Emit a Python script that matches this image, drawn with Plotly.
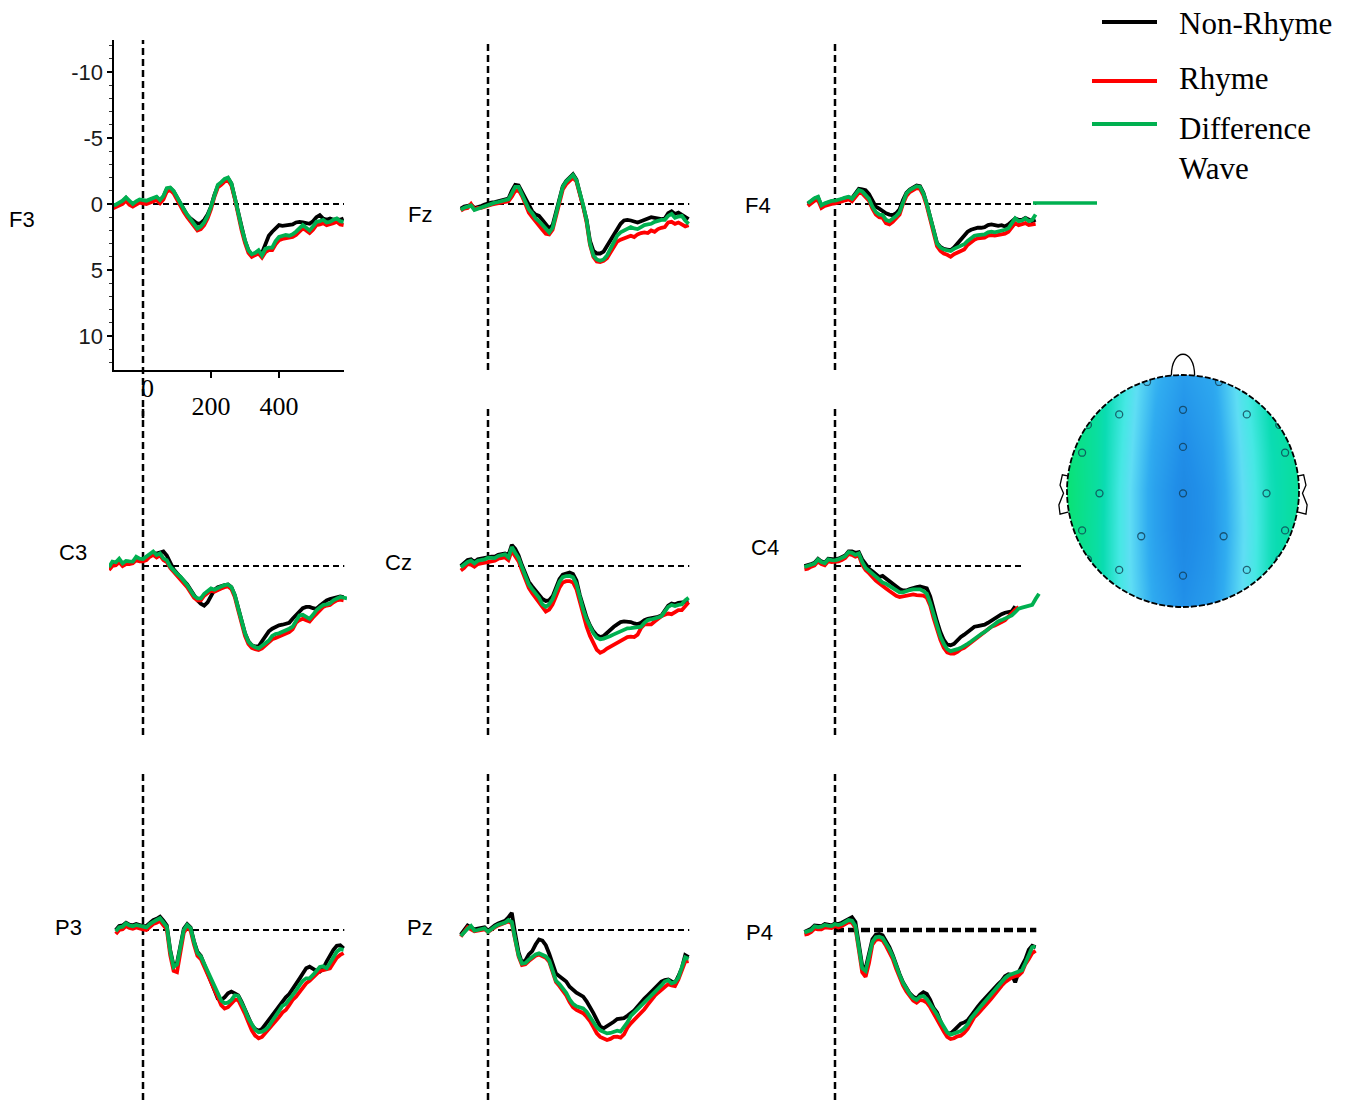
import math
import plotly.graph_objects as go

W, H = 1355, 1102

# Sample times (ms), 10 ms steps; None marks samples outside a recorded trace
TIME_MS = list(range(-100, 601, 10))

# ---- ERP amplitudes (µV), negative plotted upward ----
F3_NONRHYME = [
    None, 0.15, 0.1, -0.05, -0.2, -0.45, -0.1, 0.05, -0.15, -0.3,
    -0.25, -0.2, -0.3, -0.4, -0.5, -0.25, -0.55, -1.15, -1.2, -0.95,
    -0.5, 0.05, 0.5, 0.85, 1.1, 1.35, 1.5, 1.45, 1.2, 0.8,
    0.2, -0.7, -1.35, -1.55, -1.8, -1.95, -1.55, -0.5, 0.8, 1.9,
    2.8, 3.5, 3.85, 3.8, 3.6, 3.7, 3.0, 2.4, 2.1, 1.8,
    1.6, 1.65, 1.6, 1.6, 1.55, 1.4, 1.35, 1.4, 1.45, 1.5,
    1.3, 1.0, 0.85, 1.1, 1.2, 1.1, 1.2, 1.15, 1.2, 1.1,
    None]
F3_RHYME = [
    None, 0.35, 0.25, 0.1, 0.0, -0.25, 0.05, 0.2, 0.05, -0.1,
    -0.05, 0.0, -0.1, -0.2, -0.3, -0.05, -0.35, -0.95, -1.05, -0.8,
    -0.3, 0.2, 0.6, 1.0, 1.3, 1.7, 2.0, 1.9, 1.6, 1.1,
    0.4, -0.55, -1.25, -1.45, -1.7, -1.8, -1.4, -0.4, 0.9, 2.0,
    2.95, 3.7, 4.0, 3.9, 3.75, 4.05, 3.65, 3.5, 3.5, 3.05,
    2.75, 2.65, 2.6, 2.6, 2.5, 2.35, 2.05, 1.85, 2.0, 2.2,
    1.95, 1.6, 1.55, 1.45, 1.6, 1.55, 1.45, 1.35, 1.55, 1.6,
    None]
F3_DIFF = [
    None, 0.1, 0.05, -0.1, -0.25, -0.5, -0.2, 0.0, -0.2, -0.35,
    -0.3, -0.25, -0.35, -0.45, -0.55, -0.3, -0.6, -1.2, -1.25, -1.0,
    -0.5, 0.0, 0.4, 0.8, 1.1, 1.5, 1.85, 1.7, 1.4, 0.9,
    0.2, -0.75, -1.45, -1.65, -1.9, -2.0, -1.55, -0.5, 0.7, 1.8,
    2.75, 3.5, 3.8, 3.7, 3.5, 3.9, 3.4, 3.3, 3.3, 2.8,
    2.5, 2.4, 2.35, 2.4, 2.3, 2.1, 1.8, 1.6, 1.8, 2.0,
    1.7, 1.35, 1.3, 1.2, 1.4, 1.35, 1.2, 1.1, 1.3, 1.35,
    None]

FZ_NONRHYME = [
    None, None, 0.35, 0.2, 0.15, 0.05, 0.3, 0.25, 0.15, 0.05,
    -0.05, -0.1, -0.15, -0.2, -0.25, -0.3, -0.4, -1.0, -1.45, -1.4,
    -0.9, -0.35, 0.2, 0.55, 0.8, 0.9, 1.2, 1.5, 1.85, 1.6,
    0.6, -0.5, -1.35, -1.75, -2.05, -2.25, -1.85, -0.9, 0.1, 1.2,
    2.8, 3.55, 3.75, 3.75, 3.6, 3.2, 2.8, 2.3, 1.9, 1.5,
    1.25, 1.2, 1.25, 1.3, 1.4, 1.3, 1.2, 1.05, 1.0, 1.05,
    1.1, 1.15, 1.1, 0.7, 0.55, 0.75, 0.65, 0.8, 1.0, 1.15,
    None]
FZ_RHYME = [
    None, None, 0.5, 0.35, 0.3, 0.0, 0.4, 0.3, 0.3, 0.2,
    0.1, 0.05, 0.0, -0.05, -0.1, -0.15, -0.2, -0.55, -1.0, -1.05,
    -0.6, 0.0, 0.65, 1.0, 1.35, 1.6, 1.95, 2.25, 2.3, 1.95,
    0.9, -0.3, -1.1, -1.5, -1.8, -2.0, -1.7, -0.85, 0.2, 1.4,
    3.1, 4.0, 4.35, 4.4, 4.3, 4.1, 3.7, 3.2, 2.85, 2.7,
    2.6, 2.5, 2.4, 2.5, 2.3, 2.2, 2.15, 2.2, 2.0, 2.1,
    1.9, 1.8, 1.75, 1.4, 1.35, 1.5, 1.4, 1.55, 1.7, 1.6,
    None]
FZ_DIFF = [
    None, None, 0.45, 0.28, 0.2, 0.12, 0.45, 0.35, 0.25, 0.18,
    0.05, 0.0, -0.1, -0.15, -0.2, -0.28, -0.35, -0.8, -1.3, -1.3,
    -0.75, -0.2, 0.4, 0.7, 1.1, 1.3, 1.6, 1.9, 2.15, 1.8,
    0.7, -0.45, -1.3, -1.7, -2.0, -2.2, -1.8, -0.9, 0.1, 1.25,
    3.0, 3.9, 4.2, 4.3, 4.2, 3.9, 3.4, 2.8, 2.4, 2.15,
    2.0, 1.85, 1.75, 1.85, 1.9, 1.75, 1.6, 1.55, 1.5, 1.35,
    1.25, 1.2, 1.2, 0.9, 0.75, 1.05, 0.95, 0.9, 1.25, 1.5,
    None]

F4_NONRHYME = [
    None, None, 0.0, -0.25, -0.4, -0.5, 0.15, 0.0, -0.1, -0.2,
    -0.2, -0.25, -0.35, -0.45, -0.5, -0.45, -0.8, -1.15, -1.1, -1.05,
    -0.75, -0.2, 0.2, 0.35, 0.55, 0.7, 0.8, 0.85, 0.7, 0.4,
    -0.3, -0.85, -1.1, -1.25, -1.4, -1.35, -0.85, 0.0, 0.9, 2.0,
    2.95, 3.25, 3.4, 3.45, 3.5, 3.3, 3.0, 2.6, 2.4, 2.1,
    1.95, 1.85, 1.8, 1.8, 1.75, 1.6, 1.55, 1.6, 1.65, 1.6,
    1.7, 1.55, 1.35, 1.1, 1.2, 1.2, 1.05, 1.2, 1.3, 1.2,
    None]
F4_RHYME = [
    None, None, 0.15, -0.1, -0.25, -0.3, 0.3, 0.15, 0.05, 0.0,
    -0.05, -0.1, -0.2, -0.28, -0.35, -0.2, -0.5, -0.85, -0.8, -0.55,
    -0.25, 0.35, 0.8, 1.0, 1.05, 1.45, 1.55, 1.35, 1.1, 0.8,
    0.0, -0.6, -0.9, -1.05, -1.2, -1.15, -0.65, 0.15, 1.1, 2.2,
    3.2, 3.55, 3.75, 3.85, 4.0, 3.8, 3.7, 3.55, 3.45, 3.1,
    2.9, 2.7, 2.6, 2.55, 2.55, 2.4, 2.35, 2.4, 2.35, 2.3,
    2.25, 2.1, 1.8, 1.45, 1.6, 1.55, 1.45, 1.6, 1.55, 1.5,
    None]
F4_DIFF = [
    None, None, -0.05, -0.3, -0.45, -0.55, 0.1, -0.05, -0.15, -0.23,
    -0.25, -0.3, -0.4, -0.48, -0.55, -0.4, -0.7, -1.06, -0.95, -0.7,
    -0.4, 0.2, 0.6, 0.8, 0.83, 1.2, 1.3, 1.1, 0.9, 0.6,
    -0.2, -0.8, -1.05, -1.2, -1.35, -1.3, -0.8, 0.0, 0.9, 2.0,
    3.0, 3.3, 3.45, 3.5, 3.56, 3.4, 3.3, 3.2, 3.05, 2.8,
    2.55, 2.4, 2.35, 2.3, 2.3, 2.15, 2.1, 2.15, 2.1, 2.0,
    1.95, 1.84, 1.5, 1.09, 1.3, 1.25, 1.09, 1.3, 1.2, 0.8,
    None]

C3_NONRHYME = [
    0.2, -0.2, -0.15, -0.35, -0.1, -0.25, -0.2, -0.3, -0.45, -0.4,
    -0.45, -0.6, -0.75, -0.9, -0.95, -1.0, -1.1, -0.8, -0.2, 0.25,
    0.55, 0.8, 1.05, 1.4, 1.8, 2.2, 2.6, 2.85, 3.0, 2.75,
    2.3, 1.8, 1.6, 1.5, 1.45, 1.4, 1.6, 2.2, 3.2, 4.2,
    5.1, 5.7, 6.0, 6.1, 6.1, 5.7, 5.3, 4.95, 4.75, 4.6,
    4.5, 4.45, 4.35, 4.3, 4.0, 3.7, 3.4, 3.2, 3.1, 3.1,
    3.2, 3.25, 3.0, 2.75, 2.6, 2.5, 2.45, 2.35, 2.3, 2.35,
    None]
C3_RHYME = [
    0.3, 0.0, -0.05, -0.3, 0.0, -0.15, -0.15, -0.2, -0.45, -0.35,
    -0.35, -0.45, -0.7, -0.85, -0.65, -0.8, -0.45, -0.3, 0.15, 0.45,
    0.7, 0.95, 1.25, 1.6, 2.0, 2.4, 2.6, 2.6, 2.25, 2.0,
    1.85, 1.95, 1.8, 1.7, 1.6, 1.55, 1.75, 2.35, 3.35, 4.4,
    5.3, 5.9, 6.2, 6.3, 6.36, 6.25, 6.0, 5.8, 5.55, 5.45,
    5.35, 5.25, 5.15, 5.0, 4.8, 4.3, 4.1, 4.0, 4.1, 4.2,
    3.9, 3.6, 3.35, 3.1, 3.0, 2.95, 2.75, 2.6, 2.55, 2.6,
    None]
C3_DIFF = [
    0.1, -0.33, -0.28, -0.55, -0.2, -0.38, -0.35, -0.33, -0.7, -0.55,
    -0.53, -0.7, -0.95, -1.1, -0.83, -0.96, -0.58, -0.45, 0.05, 0.35,
    0.6, 0.81, 1.1, 1.45, 1.85, 2.25, 2.45, 2.45, 2.1, 1.85,
    1.7, 1.8, 1.65, 1.55, 1.45, 1.4, 1.6, 2.2, 3.2, 4.2,
    5.1, 5.73, 6.0, 6.15, 6.24, 6.05, 5.85, 5.65, 5.3, 5.15,
    5.1, 5.0, 4.9, 4.75, 4.6, 4.1, 3.75, 3.7, 3.85, 4.0,
    3.7, 3.35, 3.15, 2.95, 2.9, 2.83, 2.6, 2.45, 2.35, 2.4,
    2.45]

CZ_NONRHYME = [
    None, None, 0.0, -0.2, -0.45, -0.5, -0.3, -0.5, -0.55, -0.6,
    -0.7, -0.7, -0.7, -0.85, -0.9, -0.95, -0.8, -1.6, -1.3, -0.8,
    -0.05, 0.6, 1.2, 1.55, 1.85, 2.1, 2.5, 2.65, 2.6, 2.3,
    1.7, 1.0, 0.65, 0.55, 0.5, 0.6, 1.1, 2.2, 3.15, 3.9,
    4.5, 4.95, 5.25, 5.38, 5.3, 5.05, 4.85, 4.6, 4.42, 4.25,
    4.2, 4.2, 4.25, 4.35, 4.42, 4.3, 4.1, 4.0, 3.95, 3.95,
    3.85, 3.75, 3.4, 3.0, 2.85, 2.9, 2.8, 2.75, 2.7, 2.7,
    None]
CZ_RHYME = [
    None, None, 0.35, 0.15, -0.15, -0.1, 0.05, -0.15, -0.2, -0.25,
    -0.35, -0.35, -0.4, -0.55, -0.6, -0.65, -0.45, -1.15, -0.75, -0.35,
    0.35, 1.0, 1.65, 2.05, 2.4, 2.75, 3.2, 3.45, 3.3, 2.9,
    2.3, 1.65, 1.25, 1.15, 1.14, 1.25, 1.75, 2.8, 3.8, 4.6,
    5.3, 5.9, 6.35, 6.57, 6.45, 6.25, 6.1, 5.95, 5.8, 5.6,
    5.45, 5.38, 5.35, 5.38, 5.2, 4.7, 4.42, 4.4, 4.42, 4.2,
    4.0, 3.8, 3.7, 3.6, 3.65, 3.5, 3.35, 3.35, 3.0, 2.75,
    None]
CZ_DIFF = [
    None, None, 0.1, -0.1, -0.3, -0.4, -0.2, -0.4, -0.45, -0.5,
    -0.63, -0.6, -0.6, -0.76, -0.82, -0.88, -0.65, -1.44, -1.0, -0.6,
    0.1, 0.8, 1.4, 1.75, 2.05, 2.4, 2.9, 3.1, 2.9, 2.5,
    1.85, 1.2, 0.85, 0.76, 0.75, 0.85, 1.35, 2.4, 3.3, 4.04,
    4.65, 5.1, 5.43, 5.55, 5.5, 5.42, 5.3, 5.18, 5.05, 4.9,
    4.8, 4.72, 4.7, 4.67, 4.67, 4.6, 4.3, 4.1, 4.05, 4.0,
    3.9, 3.8, 3.41, 3.1, 2.95, 3.03, 2.95, 2.9, 2.6, 2.4,
    None]

C4_NONRHYME = [
    None, 0.0, -0.05, -0.15, -0.25, -0.55, -0.35, -0.25, -0.55, -0.5,
    -0.5, -0.55, -0.65, -0.8, -1.1, -1.1, -1.0, -1.05, -0.5, -0.1,
    0.2, 0.4, 0.58, 0.83, 0.75, 0.95, 1.21, 1.4, 1.6, 1.75,
    1.85, 1.85, 1.75, 1.65, 1.6, 1.55, 1.59, 1.7, 2.3, 3.3,
    4.2, 5.0, 5.6, 5.95, 6.0, 5.9, 5.6, 5.38, 5.2, 5.0,
    4.8, 4.6, 4.55, 4.5, 4.44, 4.3, 4.12, 3.95, 3.79, 3.65,
    3.54, 3.45, 3.43, 3.05, None, None, None, None, None, None,
    None]
C4_RHYME = [
    None, 0.25, 0.2, 0.05, -0.05, -0.35, -0.15, -0.05, -0.35, -0.3,
    -0.3, -0.35, -0.45, -0.6, -0.9, -0.85, -0.7, -0.8, -0.1, 0.3,
    0.55, 0.85, 1.1, 1.3, 1.46, 1.7, 1.9, 2.1, 2.25, 2.35,
    2.3, 2.2, 2.17, 2.15, 2.2, 2.2, 2.25, 2.4, 3.0, 3.95,
    4.85, 5.6, 6.2, 6.55, 6.64, 6.64, 6.5, 6.3, 6.2, 6.0,
    5.8, 5.6, 5.38, 5.2, 5.0, 4.8, 4.6, 4.5, 4.4, 4.25,
    4.1, 3.8, 3.5, 3.3, 3.1, None, None, None, None, None,
    None]
C4_DIFF = [
    None, 0.08, 0.0, -0.1, -0.18, -0.5, -0.3, -0.2, -0.5, -0.45,
    -0.43, -0.5, -0.6, -0.75, -1.06, -1.0, -0.85, -0.95, -0.3, 0.15,
    0.35, 0.6, 0.85, 1.05, 1.25, 1.35, 1.5, 1.7, 1.88, 2.0,
    2.0, 1.88, 1.82, 1.77, 1.77, 1.77, 1.9, 2.1, 2.8, 3.7,
    4.55, 5.35, 5.9, 6.3, 6.45, 6.4, 6.3, 6.2, 6.08, 5.9,
    5.72, 5.5, 5.28, 5.15, 5.0, 4.8, 4.55, 4.38, 4.2, 4.1,
    4.0, 3.9, 3.74, 3.5, 3.23, 3.15, 3.1, 3.05, 2.95, 2.5,
    2.1]

P3_NONRHYME = [
    None, None, 0.0, -0.3, -0.35, -0.55, -0.4, -0.35, -0.45, -0.35,
    -0.3, -0.3, -0.55, -0.75, -0.85, -1.0, -0.7, -0.35, 1.5, 2.7,
    2.5, 1.3, -0.1, -0.45, -0.2, 0.85, 1.65, 1.95, 2.55, 3.2,
    3.9, 4.55, 5.2, 5.3, 5.1, 4.8, 4.67, 4.8, 4.95, 5.45,
    6.0, 6.65, 7.2, 7.5, 7.65, 7.5, 7.15, 6.8, 6.4, 6.1,
    5.7, 5.4, 5.1, 4.85, 4.5, 4.1, 3.7, 3.3, 2.9, 2.78,
    2.95, 3.1, 3.15, 2.9, 2.4, 1.9, 1.5, 1.2, 1.15, 1.4,
    None]
P3_RHYME = [
    None, None, 0.3, 0.0, -0.05, -0.3, -0.15, -0.1, -0.2, -0.1,
    -0.05, 0.0, -0.25, -0.45, -0.55, -0.7, -0.35, -0.05, 1.9, 3.1,
    3.2, 1.7, 0.2, -0.2, 0.05, 1.1, 1.95, 2.2, 2.75, 3.3,
    3.85, 4.45, 5.1, 5.7, 5.95, 5.85, 5.6, 5.3, 5.3, 5.8,
    6.35, 7.0, 7.6, 8.0, 8.2, 8.1, 7.8, 7.5, 7.3, 6.9,
    6.6, 6.25, 6.06, 5.7, 5.3, 5.05, 4.7, 4.3, 4.04, 3.85,
    3.6, 3.28, 3.1, 3.05, 2.95, 2.9, 2.5, 2.1, 1.89, 1.75,
    None]
P3_DIFF = [
    None, None, 0.1, -0.2, -0.25, -0.5, -0.35, -0.28, -0.38, -0.3,
    -0.25, -0.2, -0.45, -0.65, -0.76, -0.9, -0.56, -0.25, 1.6, 2.8,
    2.6, 1.4, 0.0, -0.38, -0.13, 0.9, 1.75, 2.0, 2.55, 3.1,
    3.65, 4.2, 4.8, 5.35, 5.55, 5.5, 5.3, 4.95, 5.0, 5.5,
    6.06, 6.7, 7.2, 7.55, 7.75, 7.7, 7.55, 7.3, 6.9, 6.5,
    6.1, 5.75, 5.6, 5.3, 5.0, 4.6, 4.2, 3.85, 3.66, 3.66,
    3.4, 3.05, 2.8, 2.75, 2.9, 2.5, 2.0, 1.64, 1.45, 1.5,
    None]

PZ_NONRHYME = [
    None, None, 0.35, 0.05, -0.35, -0.2, -0.05, -0.1, -0.15, -0.2,
    0.05, -0.2, -0.35, -0.5, -0.6, -0.7, -0.95, -1.3, 0.3, 1.7,
    2.5, 2.3, 1.85, 1.6, 1.1, 0.72, 0.8, 1.15, 1.8, 2.6,
    3.3, 3.5, 3.7, 3.9, 4.3, 4.55, 4.75, 4.9, 5.05, 5.4,
    5.8, 6.3, 6.8, 7.3, 7.45, 7.3, 7.15, 6.95, 6.75, 6.7,
    6.68, 6.5, 6.3, 6.1, 5.8, 5.45, 5.2, 4.95, 4.67, 4.4,
    4.1, 3.91, 3.8, 3.75, 3.9, 4.0, 3.5, 2.9, 1.9, 2.05,
    None]
PZ_RHYME = [
    None, None, 0.5, 0.2, -0.2, -0.05, 0.1, 0.05, 0.0, -0.05,
    0.15, -0.05, -0.2, -0.35, -0.45, -0.5, -0.65, -0.5, 0.8, 2.0,
    2.65, 2.6, 2.35, 2.1, 1.95, 1.85, 1.95, 2.1, 2.4, 3.3,
    3.95, 4.25, 4.55, 4.95, 5.45, 5.85, 6.06, 6.15, 6.3, 6.57,
    6.9, 7.35, 7.83, 8.1, 8.25, 8.33, 8.25, 8.1, 8.08, 8.15,
    7.9, 7.4, 7.07, 6.8, 6.55, 6.31, 6.0, 5.65, 5.3, 5.0,
    4.75, 4.55, 4.3, 4.1, 4.2, 4.25, 3.75, 3.0, 2.4, 2.35,
    None]
PZ_DIFF = [
    None, None, 0.45, 0.15, -0.1, -0.3, 0.05, 0.0, -0.05, -0.13,
    0.13, -0.1, -0.25, -0.4, -0.5, -0.56, -0.75, -0.6, 0.7, 1.9,
    2.55, 2.5, 2.25, 2.0, 1.85, 1.77, 1.85, 2.0, 2.3, 3.2,
    3.85, 4.1, 4.4, 4.75, 5.25, 5.6, 5.78, 5.84, 5.95, 6.19,
    6.6, 7.0, 7.37, 7.6, 7.75, 7.83, 7.8, 7.7, 7.63, 7.7,
    7.4, 7.0, 6.5, 6.25, 6.0, 5.8, 5.55, 5.2, 4.95, 4.75,
    4.5, 4.2, 3.9, 3.8, 4.04, 3.95, 3.6, 2.9, 2.07, 2.2,
    None]

P4_NONRHYME = [
    None, 0.15, 0.05, -0.1, -0.35, -0.3, -0.3, -0.45, -0.4, -0.35,
    -0.5, -0.45, -0.55, -0.7, -0.85, -0.96, -0.6, 1.0, 2.7, 2.9,
    1.9, 0.7, 0.35, 0.3, 0.4, 0.8, 1.3, 1.9, 2.7, 3.35,
    3.95, 4.4, 4.8, 5.05, 5.2, 4.9, 4.72, 4.85, 5.3, 5.9,
    6.24, 6.9, 7.5, 7.8, 7.85, 7.6, 7.37, 7.1, 7.0, 6.85,
    6.5, 6.1, 5.8, 5.5, 5.2, 4.9, 4.6, 4.3, 4.1, 3.85,
    3.5, 3.35, 3.4, 3.96, 3.2, 2.7, 2.2, 1.5, 1.2, 1.3,
    None]
P4_RHYME = [
    None, 0.35, 0.3, 0.15, -0.1, -0.05, -0.05, -0.2, -0.15, -0.15,
    -0.3, -0.2, -0.3, -0.45, -0.6, -0.55, -0.15, 1.5, 3.2, 3.55,
    2.5, 1.1, 0.75, 0.7, 0.8, 1.2, 1.65, 2.2, 2.95, 3.6,
    4.2, 4.65, 5.05, 5.35, 5.5, 5.3, 5.35, 5.5, 5.85, 6.35,
    6.8, 7.3, 7.7, 8.1, 8.26, 8.2, 8.05, 8.0, 7.8, 7.5,
    7.1, 6.6, 6.36, 6.1, 5.8, 5.5, 5.2, 4.85, 4.55, 4.22,
    3.95, 3.75, 3.59, 3.5, 3.45, 3.2, 2.58, 2.2, 1.75, 1.57,
    None]
P4_DIFF = [
    None, 0.18, 0.12, 0.0, -0.28, -0.22, -0.25, -0.38, -0.33, -0.3,
    -0.45, -0.38, -0.45, -0.6, -0.75, -0.7, -0.3, 1.3, 2.9, 3.1,
    2.1, 0.9, 0.55, 0.5, 0.6, 1.0, 1.45, 2.0, 2.75, 3.4,
    4.0, 4.45, 4.85, 5.15, 5.3, 5.05, 5.0, 5.23, 5.6, 6.0,
    6.4, 6.9, 7.4, 7.75, 7.92, 7.85, 7.72, 7.65, 7.45, 7.15,
    6.7, 6.35, 6.0, 5.75, 5.45, 5.15, 4.75, 4.45, 4.2, 3.96,
    3.65, 3.45, 3.33, 3.25, 3.15, 3.05, 2.5, 1.8, 1.3, 1.25,
    None]

CHANNELS = ["F3", "Fz", "F4", "C3", "Cz", "C4", "P3", "Pz", "P4"]
WAVES = {
    "F3": (F3_NONRHYME, F3_RHYME, F3_DIFF),
    "Fz": (FZ_NONRHYME, FZ_RHYME, FZ_DIFF),
    "F4": (F4_NONRHYME, F4_RHYME, F4_DIFF),
    "C3": (C3_NONRHYME, C3_RHYME, C3_DIFF),
    "Cz": (CZ_NONRHYME, CZ_RHYME, CZ_DIFF),
    "C4": (C4_NONRHYME, C4_RHYME, C4_DIFF),
    "P3": (P3_NONRHYME, P3_RHYME, P3_DIFF),
    "Pz": (PZ_NONRHYME, PZ_RHYME, PZ_DIFF),
    "P4": (P4_NONRHYME, P4_RHYME, P4_DIFF),
}
CONDITIONS = ["Non-Rhyme", "Rhyme", "Difference Wave"]
COND_COLORS = ["#000000", "#ff0000", "#00b050"]

for ch, series in WAVES.items():
    for s in series:
        if len(s) != len(TIME_MS):
            raise ValueError(f"{ch}: {len(s)} samples")

# ---- scalp topography (relative amplitude on a head grid, 0 = most negative) ----
TOPO_X = [-1.0, -0.75, -0.5, -0.25, 0.0, 0.25, 0.5, 0.75, 1.0]
TOPO_Y = [-1.0, -0.667, -0.333, 0.0, 0.333, 0.667, 1.0]
TOPO_Z = [
    [0.97, 0.84, 0.63, 0.38, 0.22, 0.31, 0.58, 0.78, 0.86],
    [0.98, 0.85, 0.62, 0.35, 0.18, 0.28, 0.57, 0.78, 0.87],
    [1.00, 0.85, 0.62, 0.33, 0.15, 0.26, 0.56, 0.78, 0.88],
    [1.00, 0.86, 0.62, 0.33, 0.15, 0.27, 0.57, 0.78, 0.88],
    [0.99, 0.86, 0.64, 0.36, 0.19, 0.30, 0.59, 0.79, 0.88],
    [0.98, 0.86, 0.66, 0.40, 0.24, 0.34, 0.62, 0.81, 0.88],
    [0.97, 0.86, 0.68, 0.44, 0.30, 0.38, 0.64, 0.82, 0.88],
]
ELECTRODE_X = [-0.55, 0.0, 0.55, -0.87, 0.0, 0.88, -0.72, 0.0, 0.72,
               -0.87, -0.36, 0.35, 0.88, -0.55, 0.0, 0.55,
               -0.31, 0.31, -0.82, 0.83, -0.82, 0.83, -0.31, 0.31]
ELECTRODE_Y = [0.66, 0.70, 0.66, 0.33, 0.38, 0.33, -0.02, -0.02, -0.02,
               -0.34, -0.39, -0.39, -0.34, -0.68, -0.73, -0.68,
               0.94, 0.94, 0.57, 0.57, -0.59, -0.59, -0.98, -0.98]

# ---- page geometry (pixels) ----
COL_ZERO_PX = [143, 488, 835]           # where t = 0 ms falls in each column
ROW_ZERO_PX = [204, 566, 930]           # where 0 µV falls in each row
ROW_SPAN_PX = [(40, 370), (405, 735), (770, 1100)]
PX_PER_MS = 0.34
PX_PER_UV = 13.2
X_RANGE = {"F3": (-85, 591), "C4": (-100, 612)}
BASELINE_END = {"C4": 550}
LABEL_PX = {"F3": (22, 220), "Fz": (420, 215), "F4": (758, 205),
            "C3": (73, 552), "Cz": (398, 562), "C4": (765, 548),
            "P3": (68, 927), "Pz": (420, 927), "P4": (760, 932)}

SANS = "Liberation Sans, Arial, sans-serif"
SERIF = "Liberation Serif, Times New Roman, serif"


def pxx(p):
    return p / W


def pxy(p):
    return 1 - p / H


fig = go.Figure()
axes = {}
shapes = []
annotations = []

for k, ch in enumerate(CHANNELS, start=1):
    r, c = divmod(k - 1, 3)
    x0 = COL_ZERO_PX[c]
    top, bot = ROW_SPAN_PX[r]
    zero = ROW_ZERO_PX[r]
    xr = X_RANGE.get(ch, (-100, 600))
    sfx = "" if k == 1 else str(k)
    xref, yref = "x" + sfx, "y" + sfx
    axes["xaxis" + sfx] = dict(
        domain=[pxx(x0 + PX_PER_MS * xr[0]), pxx(x0 + PX_PER_MS * xr[1])],
        range=list(xr), anchor=yref, visible=False, fixedrange=True)
    axes["yaxis" + sfx] = dict(
        domain=[pxy(bot), pxy(top)],
        range=[(bot - zero) / PX_PER_UV, (top - zero) / PX_PER_UV],
        anchor=xref, visible=False, fixedrange=True)

    for vals, name, color in zip(WAVES[ch], CONDITIONS, COND_COLORS):
        fig.add_trace(go.Scatter(
            x=TIME_MS, y=vals, mode="lines", name=name,
            line=dict(color=color, width=3.8), xaxis=xref, yaxis=yref,
            showlegend=False, hoverinfo="skip"))

    # stimulus-onset marker
    y_low = 418 if ch == "F3" else bot
    shapes.append(dict(type="line", xref=xref, yref="paper", x0=0, x1=0,
                       y0=pxy(y_low), y1=pxy(top), layer="below",
                       line=dict(color="black", width=2.5, dash="7px,4px")))
    # 0 µV baseline
    thick = ch == "P4"
    shapes.append(dict(type="line", xref=xref, yref=yref, x0=0,
                       x1=BASELINE_END.get(ch, 592), y0=0, y1=0, layer="below",
                       line=dict(color="black", width=4.5 if thick else 2.2,
                                 dash="9px,4px" if thick else "6px,4px")))
    lx, ly = LABEL_PX[ch]
    annotations.append(dict(text=ch, xref="paper", yref="paper", x=pxx(lx), y=pxy(ly),
                            xanchor="center", yanchor="middle", showarrow=False,
                            font=dict(family=SANS, size=22, color="black")))

# F3 carries the only visible axes
axes["xaxis"].update(visible=True, showline=True, linecolor="black", linewidth=1.5,
                     showgrid=False, zeroline=False, ticks="outside", ticklen=6,
                     tickwidth=2, tickcolor="black", tickvals=[200, 400],
                     ticktext=["200", "400"], ticklabelstandoff=6,
                     tickfont=dict(family=SERIF, size=26, color="black"))
axes["yaxis"].update(visible=True, showline=True, linecolor="black", linewidth=1.5,
                     showgrid=False, zeroline=False, ticks="outside", ticklen=5,
                     tickwidth=1.5, tickcolor="black", tickvals=[-10, -5, 0, 5, 10],
                     ticktext=["-10", "-5", "0", "5", "10"],
                     tickfont=dict(family=SANS, size=22, color="#1a1a1a"),
                     minor=dict(ticks="outside", ticklen=3, tickwidth=1,
                                tickcolor="#333333", dtick=1, showgrid=False))
annotations.append(dict(text="0", xref="x", yref="paper", x=0, xshift=4, y=pxy(388),
                        xanchor="center", yanchor="middle", showarrow=False,
                        font=dict(family=SERIF, size=26, color="black")))

# ---- scalp map ----
HEAD_C = (1183, 491)
HEAD_R = 116
hx_dom = (1050, 1316)
hy_dom = (350, 620)
axes["xaxis10"] = dict(domain=[pxx(hx_dom[0]), pxx(hx_dom[1])],
                       range=[(hx_dom[0] - HEAD_C[0]) / HEAD_R, (hx_dom[1] - HEAD_C[0]) / HEAD_R],
                       anchor="y10", visible=False, fixedrange=True)
axes["yaxis10"] = dict(domain=[pxy(hy_dom[1]), pxy(hy_dom[0])],
                       range=[(HEAD_C[1] - hy_dom[1]) / HEAD_R, (HEAD_C[1] - hy_dom[0]) / HEAD_R],
                       anchor="x10", visible=False, fixedrange=True)

fig.add_trace(go.Heatmap(
    x=TOPO_X, y=TOPO_Y, z=TOPO_Z, zmin=0, zmax=1, zsmooth="best", showscale=False,
    xaxis="x10", yaxis="y10", hoverinfo="skip",
    colorscale=[[0.0, "rgb(28,125,215)"], [0.2, "rgb(32,142,232)"],
                [0.4, "rgb(48,172,240)"], [0.58, "rgb(95,222,244)"],
                [0.67, "rgb(70,232,228)"], [0.8, "rgb(10,220,178)"],
                [1.0, "rgb(10,226,118)"]]))
fig.add_trace(go.Scatter(
    x=ELECTRODE_X, y=ELECTRODE_Y, mode="markers", xaxis="x10", yaxis="y10",
    showlegend=False, hoverinfo="skip",
    marker=dict(symbol="circle-open", size=7, color="rgba(15,55,75,0.75)",
                line=dict(width=1.3))))

# white surround leaving a circular window on the map
n = 120
rect = "M -1.14,-1.2 L -1.14,1.2 L 1.14,1.2 L 1.14,-1.2 Z"
circ = " ".join(("M" if i == 0 else "L") + f" {math.cos(2 * math.pi * i / n):.4f},{math.sin(2 * math.pi * i / n):.4f}"
                for i in range(n)) + " Z"
shapes.append(dict(type="path", xref="x10", yref="y10", path=rect + " " + circ,
                   fillcolor="white", fillrule="evenodd", line=dict(width=0), layer="above"))
shapes.append(dict(type="circle", xref="x10", yref="y10", x0=-1, x1=1, y0=-1, y1=1,
                   line=dict(color="black", width=1.8, dash="6px,2px"), layer="above"))
shapes.append(dict(type="path", xref="x10", yref="y10",
                   path="M -0.1,0.995 C -0.1,1.24 0.1,1.24 0.1,0.995",
                   line=dict(color="black", width=1.3), layer="above"))
for side in (-1, 1):
    pts = [(0.995, 0.13), (1.04, 0.14), (1.06, 0.05), (1.03, -0.02),
           (1.07, -0.12), (1.06, -0.2), (0.985, -0.18)]
    path = " ".join(("M" if i == 0 else "L") + f" {side * px_:.3f},{py_:.3f}"
                    for i, (px_, py_) in enumerate(pts))
    shapes.append(dict(type="path", xref="x10", yref="y10", path=path,
                       line=dict(color="black", width=1.3), layer="above"))

# ---- legend ----
legend_rows = [("Non-Rhyme", "#000000", 1102, 22, 23),
               ("Rhyme", "#ff0000", 1092, 81, 78),
               ("Difference<br>Wave", "#00b050", 1092, 124, 149)]
for text, color, lx0, ly, ty in legend_rows:
    shapes.append(dict(type="line", xref="paper", yref="paper", x0=pxx(lx0), x1=pxx(1157),
                       y0=pxy(ly), y1=pxy(ly), line=dict(color=color, width=4)))
    annotations.append(dict(text=text, xref="paper", yref="paper", x=pxx(1177), y=pxy(ty),
                            xanchor="left", yanchor="middle", align="left", showarrow=False,
                            font=dict(family=SERIF, size=31, color="black")))
# short green stroke beside F4
shapes.append(dict(type="line", xref="paper", yref="paper", x0=pxx(1033), x1=pxx(1097),
                   y0=pxy(203), y1=pxy(203), line=dict(color="#00b050", width=3.5)))

fig.update_layout(
    width=W, height=H, autosize=False,
    margin=dict(l=0, r=0, t=0, b=0),
    paper_bgcolor="white", plot_bgcolor="rgba(0,0,0,0)",
    showlegend=False, shapes=shapes, annotations=annotations, **axes)

fig.write_html("out.html")
